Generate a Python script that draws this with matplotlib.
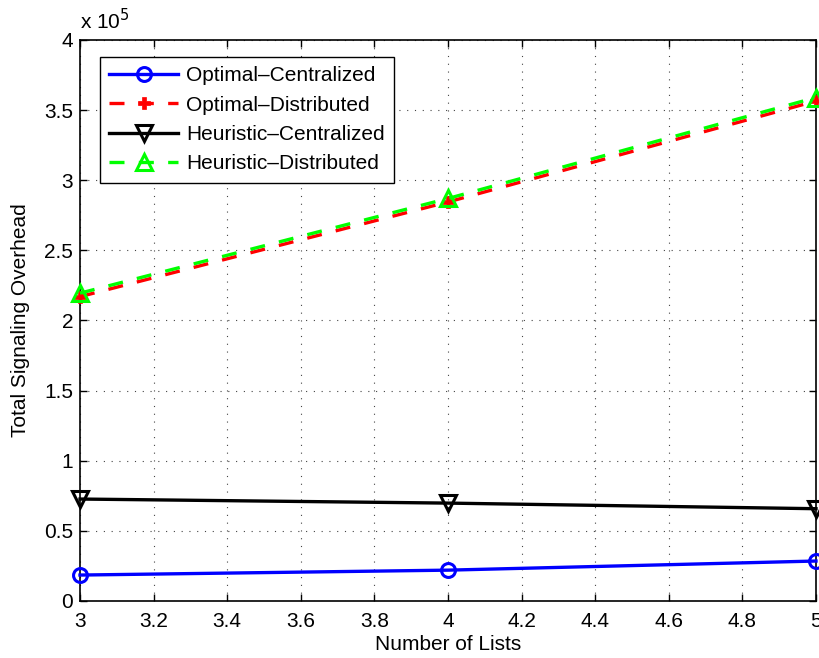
import matplotlib
matplotlib.use("Agg")
import matplotlib.pyplot as plt
from matplotlib.ticker import FuncFormatter

plt.rcParams['font.family'] = ['Liberation Sans', 'DejaVu Sans']

# Number of lists and total signaling overhead for each scheme
num_lists = [3, 4, 5]
optimal_centralized = [18500, 22000, 28500]
optimal_distributed = [217000, 284500, 356500]
heuristic_centralized = [72700, 69800, 65800]
heuristic_distributed = [219500, 287000, 359000]

series_labels = ["Optimal\u2013Centralized", "Optimal\u2013Distributed",
                 "Heuristic\u2013Centralized", "Heuristic\u2013Distributed"]

x_ticks = [3, 3.2, 3.4, 3.6, 3.8, 4, 4.2, 4.4, 4.6, 4.8, 5]
y_ticks = [0, 50000, 100000, 150000, 200000, 250000, 300000, 350000, 400000]

FS = 15

fig = plt.figure(figsize=(8.19, 6.58), dpi=100)
ax = fig.add_axes([80 / 819, 57 / 658, 736 / 819, 561 / 658])

dash = (4.5, 4.3)
ax.plot(num_lists, optimal_centralized, color='#0000ff', lw=2.4, marker='o',
        ms=10, mew=2.2, mfc='none', label=series_labels[0], clip_on=False, zorder=3)
ax.plot(num_lists, optimal_distributed, color='#ff0000', lw=2.4, dashes=dash,
        marker='P', ms=8, mew=0.5, mfc='#ff0000', label=series_labels[1],
        clip_on=False, zorder=3)
ax.plot(num_lists, heuristic_centralized, color='black', lw=2.4, marker='v',
        ms=12, mew=2.2, mfc='none', label=series_labels[2], clip_on=False, zorder=3)
ax.plot(num_lists, heuristic_distributed, color='#00ff00', lw=2.4, dashes=dash,
        marker='^', ms=12, mew=2.2, mfc='none', label=series_labels[3],
        clip_on=False, zorder=4)

ax.set_xlim(3, 5)
ax.set_ylim(0, 400000)
ax.set_xticks(x_ticks)
ax.set_yticks(y_ticks)
ax.xaxis.set_major_formatter(FuncFormatter(lambda v, p: f"{v:g}"))
ax.yaxis.set_major_formatter(FuncFormatter(lambda v, p: f"{v / 1e5:g}"))

ax.tick_params(direction='in', length=5, width=1, top=True, right=True,
               labelsize=FS, colors='black')
ax.tick_params(axis='x', pad=8)
ax.tick_params(axis='y', pad=5)
for s in ax.spines.values():
    s.set_linewidth(1.2)
    s.set_color('black')

ax.grid(True, color='#444444', linestyle=(0, (1, 6)), linewidth=0.8)
ax.set_axisbelow(True)

ax.text(0.0, 1.012, r'x 10$^{5}$', transform=ax.transAxes, fontsize=FS,
        ha='left', va='bottom')

ax.set_xlabel("Number of Lists", fontsize=FS, labelpad=3)
ax.set_ylabel("Total Signaling Overhead", fontsize=FS, labelpad=10)

leg = ax.legend(loc='upper left', bbox_to_anchor=(0.027, 0.97), fontsize=FS,
                handlelength=3.3, handletextpad=0.4, borderpad=0.45,
                labelspacing=0.5, fancybox=False, framealpha=1,
                edgecolor='black', borderaxespad=0)
leg.get_frame().set_linewidth(1.0)

fig.savefig("out.png", dpi=100)
